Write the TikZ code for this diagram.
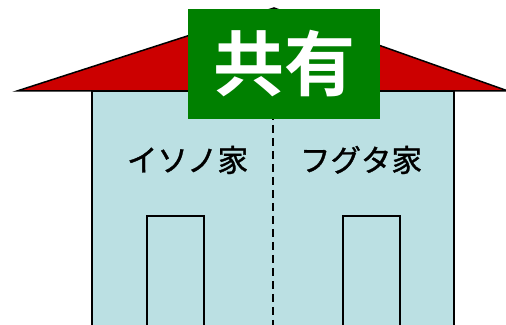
\documentclass[tikz,border=0pt]{standalone}
\usepackage{fontspec}
\newfontfamily\jpfont[FakeBold=1.2]{Noto Sans CJK JP}
\newfontfamily\jpbold{Noto Sans CJK JP Bold}
\definecolor{roofred}{HTML}{CC0000}
\definecolor{wallblue}{HTML}{BBE0E3}
\definecolor{signgreen}{HTML}{008000}
\begin{document}
\begin{tikzpicture}[x=1pt,y=1pt,
  roof/.style={fill=roofred,draw=black,line width=1.5pt,line join=miter},
  wall/.style={fill=wallblue,draw=black,line width=1.5pt},
  door/.style={draw=black,line width=2pt},
  divider/.style={draw=black,line width=1.6pt,dash pattern=on 8pt off 5pt},
  sign/.style={fill=signgreen,draw=none,minimum width=192pt,minimum height=110pt,inner sep=0pt,
    text=white,font=\jpbold\fontsize{71}{71}\selectfont},
  family/.style={font=\jpfont\fontsize{30.5}{30.5}\selectfont,text=black,inner sep=0pt}]
\useasboundingbox (0,0) rectangle (506,324);
% roof
\coordinate (eaveL) at (17,233);
\coordinate (ridge) at (274,316);
\coordinate (eaveR) at (508,233);
\draw[roof] (eaveL) -- (ridge) -- (eaveR) -- cycle;
% walls
\draw[wall] (92,233) rectangle (454,-5);
% party wall between the two homes
\coordinate (partyTop) at (273,316);
\coordinate (partyBot) at (273,-5);
\draw[divider] (partyTop) -- (partyBot);
% doors
\draw[door] (147,-5) rectangle (204,108);
\draw[door] (343,-5) rectangle (400,108);
% shared-ownership sign
\node[sign] (shared) at (284,260) {共有};
% family names
\node[family] (isono) at (187.5,164) {イソノ家};
\node[family] (fuguta) at (361,164) {フグタ家};
\end{tikzpicture}
\end{document}
